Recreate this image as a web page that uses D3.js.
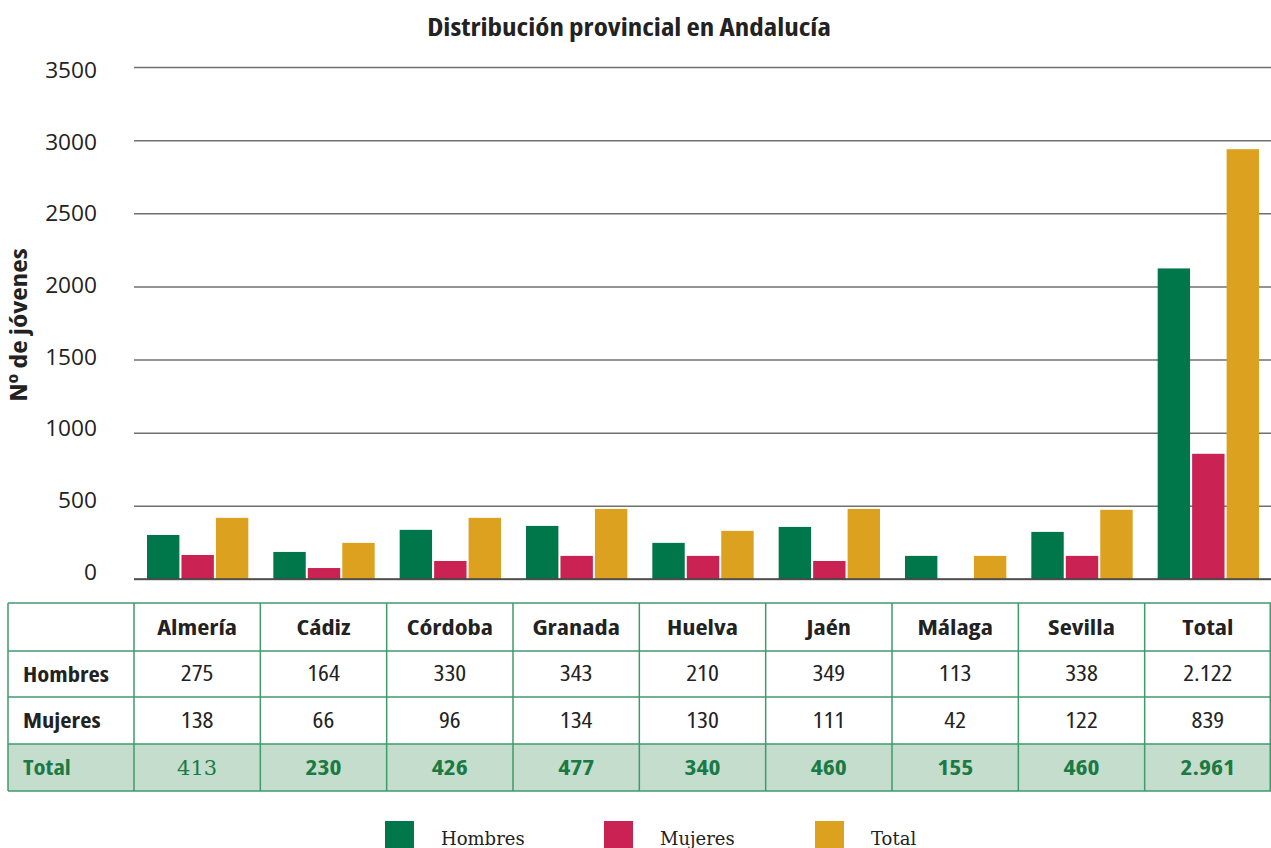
<!DOCTYPE html>
<html lang="es">
<head>
<meta charset="utf-8">
<title>Distribución provincial en Andalucía</title>
<script src="https://d3js.org/d3.v7.min.js"></script>
<style>
  body { margin: 0; background: #fff; }
  .cond { font-family: "Open Sans", "DejaVu Sans Condensed", sans-serif; font-stretch: 75%; }
  .tick text { font-family: "Open Sans", sans-serif; font-size: 21px; fill: #222; }
  .legend text { font-family: "DejaVu Serif", "Liberation Serif", serif; font-size: 18px; fill: #222; }
</style>
</head>
<body>
<div id="chart"></div>
<script>
const width = 1271;
const height = 848;

// categories and series
const provincias = ["Almería", "Cádiz", "Córdoba", "Granada", "Huelva", "Jaén", "Málaga", "Sevilla", "Total"];
const series = ["Hombres", "Mujeres", "Total"];
const colors = ["#00774a", "#c92253", "#dca11e"];

// bar heights as drawn in the chart
const barHombres = [301, 185, 336, 363, 247, 356, 158, 322, 2123];
const barMujeres = [164, 75, 123, 158, 158, 123, 0, 158, 856];
const barTotal = [418, 247, 418, 479, 329, 479, 158, 473, 2938];

// values printed in the table
const tablaHombres = [275, 164, 330, 343, 210, 349, 113, 338, 2122];
const tablaMujeres = [138, 66, 96, 134, 130, 111, 42, 122, 839];
const tablaTotal = [413, 230, 426, 477, 340, 460, 155, 460, 2961];

const yTicks = [0, 500, 1000, 1500, 2000, 2500, 3000, 3500];

const es = d3.formatLocale({decimal: ",", thousands: ".", grouping: [3], currency: ["", " €"]});
const fmt = es.format(",d");

// the original face is a semi-condensed sans: widen the condensed one a bit
const widen = (x, y, s) => "translate(" + x + "," + y + ") scale(" + s + ",1)";

const svg = d3.select("#chart").append("svg")
  .attr("width", width)
  .attr("height", height)
  .attr("viewBox", [0, 0, width, height]);

const plotLeft = 134, plotRight = 1271, plotTop = 67, plotBottom = 579;

const x0 = d3.scaleBand().domain(provincias).range([plotLeft, plotRight]);
const x1 = d3.scaleBand().domain(series).range([13, x0.bandwidth() - 12]).paddingInner(0.06);
const y = d3.scaleLinear().domain([0, 3500]).range([plotBottom, plotTop]);
// tick labels sit slightly off their gridlines in the original
const yLabel = d3.scaleLinear().domain([0, 3500]).range([572, 70]);

// title
svg.append("text")
  .attr("class", "cond")
  .attr("transform", widen(629, 36, 1.16))
  .attr("text-anchor", "middle")
  .style("font-size", "25px").style("font-weight", 700).style("fill", "#222")
  .text("Distribución provincial en Andalucía");

// y axis with gridlines
const yAxis = d3.axisLeft(y).tickValues(yTicks).tickFormat(d3.format("d"))
  .tickSize(-(plotRight - plotLeft));
svg.append("g")
  .attr("transform", "translate(" + plotLeft + ",0)")
  .call(yAxis)
  .call(g => g.select(".domain").remove())
  .call(g => g.selectAll(".tick line").attr("stroke", "#707070").attr("stroke-width", 1.5))
  .call(g => g.selectAll(".tick text")
    .attr("x", 0).attr("dy", "0.35em")
    .attr("transform", d => widen(-37, yLabel(d) - y(d), 1.08)));

svg.append("text")
  .attr("class", "cond")
  .attr("transform", "translate(27,325) rotate(-90) scale(1.22,1)")
  .attr("text-anchor", "middle")
  .style("font-size", "24px").style("font-weight", 700).style("fill", "#222")
  .text("Nº de jóvenes");

// bars
const rows = provincias.map((p, i) => ({
  prov: p,
  vals: [barHombres[i], barMujeres[i], barTotal[i]]
}));

const groups = svg.append("g").selectAll("g")
  .data(rows)
  .join("g")
  .attr("transform", d => "translate(" + x0(d.prov) + ",0)");

groups.selectAll("rect")
  .data(d => d.vals.map((v, j) => ({serie: series[j], v: v, c: colors[j]})))
  .join("rect")
  .attr("x", d => x1(d.serie))
  .attr("width", x1.bandwidth())
  .attr("y", d => y(d.v))
  .attr("height", d => y(0) - y(d.v))
  .attr("fill", d => d.c);

// zero line on top
svg.append("line")
  .attr("x1", plotLeft).attr("x2", plotRight)
  .attr("y1", y(0)).attr("y2", y(0))
  .attr("stroke", "#444").attr("stroke-width", 1.5);

// data table
const rowY = [603, 651, 697, 744, 791];
const tLeft = 8;
const border = "#3f9a6c";

const table = svg.append("g");

table.append("rect")
  .attr("x", tLeft).attr("y", rowY[3])
  .attr("width", plotRight - tLeft).attr("height", rowY[4] - rowY[3])
  .attr("fill", "#c4ddcc");

// horizontal lines
table.selectAll("line.h")
  .data(rowY)
  .join("line")
  .attr("class", "h")
  .attr("x1", tLeft).attr("x2", plotRight)
  .attr("y1", d => d).attr("y2", d => d)
  .attr("stroke", border).attr("stroke-width", 1.5);

// vertical lines
const colEdges = [tLeft].concat(provincias.map(p => x0(p))).concat([plotRight - 0.75]);
table.selectAll("line.v")
  .data(colEdges)
  .join("line")
  .attr("class", "v")
  .attr("x1", d => d).attr("x2", d => d)
  .attr("y1", rowY[0]).attr("y2", rowY[4])
  .attr("stroke", border).attr("stroke-width", 1.5);

const midY = i => (rowY[i] + rowY[i + 1]) / 2;
const colMid = j => x0(provincias[j]) + x0.bandwidth() / 2;

// header
table.selectAll("text.head")
  .data(provincias)
  .join("text")
  .attr("class", "cond head")
  .attr("transform", (d, j) => widen(colMid(j), midY(0), 1.2))
  .attr("dy", "0.35em")
  .attr("text-anchor", "middle")
  .style("font-size", "22px").style("font-weight", 700).style("fill", "#222")
  .text(d => d);

const tableRows = [
  {name: "Hombres", vals: tablaHombres, color: "#222", weight: 400},
  {name: "Mujeres", vals: tablaMujeres, color: "#222", weight: 400},
  {name: "Total", vals: tablaTotal, color: "#1a7a45", weight: 700}
];

tableRows.forEach((r, i) => {
  table.append("text")
    .attr("class", "cond")
    .attr("transform", widen(23, midY(i + 1), 1.12))
    .attr("dy", "0.35em")
    .style("font-size", "22px").style("font-weight", 700).style("fill", r.color)
    .text(r.name);

  table.selectAll("text.r" + i)
    .data(r.vals)
    .join("text")
    .attr("class", "cond r" + i)
    .attr("transform", (d, j) => (i === 2 && j === 0)
      ? widen(colMid(j), midY(i + 1), 1)
      : widen(colMid(j), midY(i + 1), 1.22))
    .attr("dy", "0.35em")
    .attr("text-anchor", "middle")
    .style("fill", r.color)
    .style("font-family", (d, j) => (i === 2 && j === 0) ? "'DejaVu Serif', serif" : null)
    .style("font-size", "21px")
    .style("font-weight", (d, j) => (i === 2 && j === 0) ? 400 : r.weight)
    .style("font-stretch", (d, j) => (i === 2 && j === 0) ? "normal" : null)
    .text(d => fmt(d));
});

// legend
const legendX = [385, 604, 815];
const legend = svg.append("g").attr("class", "legend");
series.forEach((s, i) => {
  legend.append("rect")
    .attr("x", legendX[i]).attr("y", 821)
    .attr("width", 29).attr("height", 29)
    .attr("fill", colors[i]);
  legend.append("text")
    .attr("x", legendX[i] + 56).attr("y", 845)
    .text(s);
});
</script>
</body>
</html>
